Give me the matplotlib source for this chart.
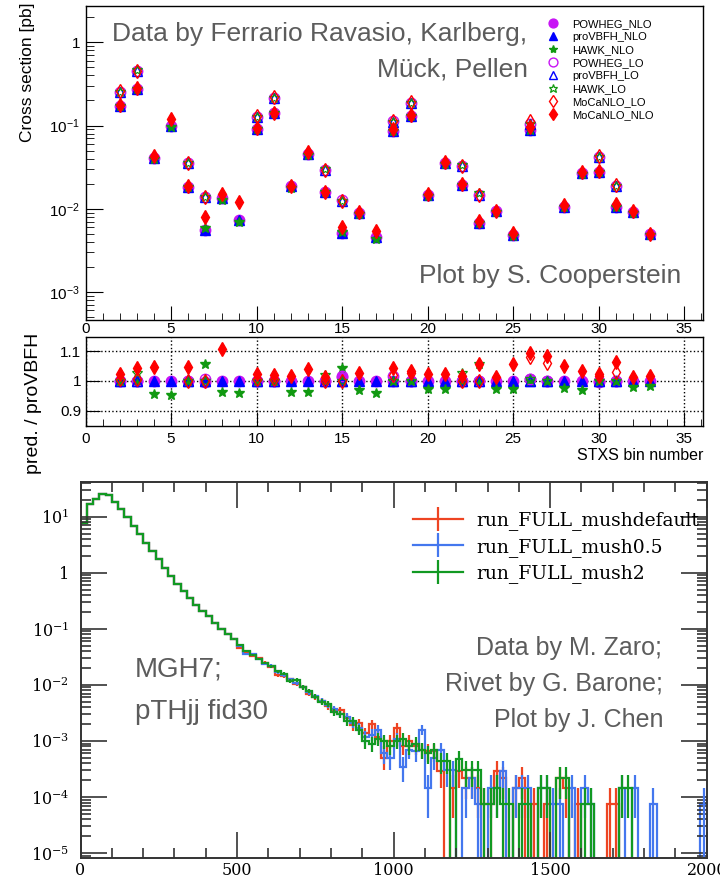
import numpy as np
import matplotlib
matplotlib.use("Agg")
import matplotlib.pyplot as plt
from matplotlib.ticker import FixedLocator, FuncFormatter, MultipleLocator, NullFormatter, LogLocator
from matplotlib.lines import Line2D

plt.rcParams["font.family"] = ["Liberation Sans", "DejaVu Sans"]
plt.rcParams["mathtext.fontset"] = "custom"
plt.rcParams["mathtext.rm"] = "Liberation Sans"
plt.rcParams["mathtext.it"] = "Liberation Sans:italic"
plt.rcParams["mathtext.default"] = "regular"

nan = np.nan

# ---------------- STXS cross sections ----------------
stxs_bins = list(range(2, 34))
lo_bins = [2, 3, 6, 7, 10, 11, 14, 15, 18, 19, 22, 23, 26, 27, 30, 31]

xsec_provbfh_nlo = [0.172, 0.273, 0.041, 0.100, 0.018, 0.0055, 0.0134, 0.0073,
                    0.090, 0.140, 0.0185, 0.0456, 0.0157, 0.0051, 0.0090, 0.00456,
                    0.086, 0.130, 0.0146, 0.0359, 0.0194, 0.0068, 0.0093, 0.0048,
                    0.0878, nan, 0.0106, 0.0267, 0.028, 0.0106, 0.0092, 0.00495]
xsec_provbfh_lo = [0.255, 0.452, 0.0359, 0.0138, 0.128, 0.216, 0.0293, 0.0124,
                   0.111, 0.188, 0.033, 0.0146, 0.1045, nan, 0.0423, 0.0188]

# ratios to proVBFH at the same order
ratio_powheg_nlo = [1.0, 1.0, 1.0, 1.0, 1.0, 0.996, 1.0, 1.0,
                    1.0, 1.0, 1.0, 1.0, 1.0, 1.012, 1.0, 1.0,
                    1.0, 1.0, 1.0, 1.0, 1.0, 1.0, 1.0, 1.0,
                    1.008, 1.0, 1.0, 1.0, 0.995, 1.0, 1.0, 1.0]
ratio_provbfh_nlo = [1.0] * 32
ratio_hawk_nlo = [0.995, 1.0, 0.957, 0.953, 1.0, 1.057, 0.962, 0.961,
                  1.0, 1.0, 0.964, 0.964, 1.0, 1.042, 0.968, 0.959,
                  1.0, 1.0, 0.973, 0.972, 1.0, 1.0, 0.973, 0.972,
                  1.0, 1.0, 0.976, 0.970, 1.0, 1.0, 0.979, 0.984]
ratio_mocanlo_nlo = [1.022, 1.042, 1.045, 1.20, 1.048, 1.45, 1.108, 1.65,
                     1.023, 1.020, 1.018, 1.040, 1.012, 1.17, 1.026, 1.18,
                     1.042, 1.032, 1.022, 1.022, 1.018, 1.055, 1.013, 1.055,
                     1.095, 1.082, 1.051, 1.033, 1.022, 1.064, 1.014, 1.016]
ratio_powheg_lo = [1.0, 1.0, 1.0, 1.008, 1.0, 1.0, 1.0, 1.015,
                   1.015, 1.0, 1.0, 1.0, 1.005, 1.0, 1.0, 1.0]
ratio_provbfh_lo = [1.0] * 16
ratio_hawk_lo = [1.0, 1.025, 1.0, 1.0, 1.0, 1.0, 1.02, 1.0,
                 1.0, 1.0, 1.025, 1.055, 1.005, 1.0, 1.0, 1.0]
ratio_mocanlo_lo = [1.005, 1.005, 1.0, 1.0, 1.005, 1.005, 1.0, 1.0,
                    1.02, 1.025, 1.0, 1.0, 1.08, 1.059, 1.015, 1.029]

# ---------------- pT(Hjj) spectra ----------------
pt_edges = np.arange(0, 2001, 20)
event_weight = 7.4e-5

xs_mushdefault = [
    7.6, 16.6, 20.7, 25.0, 24.5, 18.0, 13.5, 9.8, 6.8, 4.87,
    3.45, 2.45, 1.75, 1.24, 0.88, 0.635, 0.48, 0.357, 0.268, 0.21,
    0.166, 0.127, 0.100, 0.082, 0.066, 0.046, 0.038, 0.033, 0.030, 0.025,
    0.021, 0.015, 0.0145, 0.0125, 0.0105, 0.0092, 0.0070, 0.0060, 0.0052, 0.0042,
    0.0036, 0.0035, 0.0026, 0.0019, 0.0021, 0.0014, 0.0020, 0.0012, 0.0005, 0.0010,
    0.0017, 0.0008, 0.0010, 0.0008, 0.0007, 0.00065, 0.00065, 0.00029, 0, 0.000147,
    0.00029, 0.00022, 0.00022, 0.000147, 0.000074, 0.000074, 0.00029, 0.00022, 0, 0.000147,
    0.00022, 0, 0.000074, 0, 0.000074, 0, 0.00022, 0.000147, 0, 0.000074,
    0, 0, 0, 0, 0.000074, 0.000074, 0, 0, 0, 0,
    0, 0, 0, 0, 0, 0, 0, 0, 0, 0]
xs_mush05 = [
    7.6, 16.6, 20.7, 25.0, 24.5, 18.0, 13.5, 9.8, 6.8, 4.87,
    3.45, 2.45, 1.75, 1.24, 0.88, 0.635, 0.48, 0.357, 0.268, 0.21,
    0.166, 0.127, 0.100, 0.082, 0.066, 0.050, 0.036, 0.035, 0.029, 0.024,
    0.022, 0.0168, 0.0150, 0.0125, 0.0108, 0.0093, 0.0074, 0.0063, 0.0052, 0.0044,
    0.0037, 0.0030, 0.0027, 0.0021, 0.0017, 0.0012, 0.0013, 0.0016, 0.0006, 0.0005,
    0.0011, 0.00035, 0.0007, 0.00065, 0.0016, 0.000147, 0.0005, 0.0007, 0.0003, 0.0003,
    0, 0.000147, 0.00022, 0.000074, 0, 0.000147, 0.000147, 0.00029, 0, 0.000147,
    0.000147, 0.000147, 0, 0.000147, 0.000147, 0.000074, 0.000074, 0, 0.000147, 0,
    0.000147, 0.000074, 0, 0, 0, 0, 0.000147, 0, 0.000147, 0,
    0, 0.000074, 0, 0, 0, 0, 0, 0, 0, 0.000074]
xs_mush2 = [
    7.6, 16.6, 20.7, 25.0, 24.5, 18.0, 13.5, 9.8, 6.8, 4.87,
    3.45, 2.45, 1.75, 1.24, 0.88, 0.635, 0.48, 0.357, 0.268, 0.21,
    0.166, 0.127, 0.100, 0.082, 0.066, 0.052, 0.040, 0.034, 0.029, 0.0246,
    0.0215, 0.0175, 0.0158, 0.0118, 0.0122, 0.0090, 0.0078, 0.0062, 0.0050, 0.0046,
    0.0033, 0.0030, 0.0023, 0.0023, 0.0016, 0.0010, 0.0009, 0.0011, 0.0010, 0.0008,
    0.0010, 0.0011, 0.0008, 0.0009, 0.0007, 0.0006, 0.0007, 0.00044, 0.00044, 0,
    0.00047, 0.0003, 0.0003, 0.0003, 0.000074, 0.000074, 0.000147, 0.000074, 0.000074, 0,
    0.000074, 0.000074, 0, 0.000147, 0.000147, 0, 0.00022, 0.00022, 0, 0,
    0.000074, 0.000074, 0, 0, 0, 0, 0.000147, 0.000147, 0, 0,
    0, 0, 0, 0, 0, 0, 0, 0, 0, 0]

pt_labels = ["run_FULL_mushdefault", "run_FULL_mush0.5", "run_FULL_mush2"]

# ---------------- figure layout (pixel boxes) ----------------
W, H = 720, 883
fig = plt.figure(figsize=(W / 100, H / 100), dpi=100)


def box(left, top, right, bottom):
    return [left / W, 1 - bottom / H, (right - left) / W, (bottom - top) / H]


def fig_text(x, y, s, **kw):
    return fig.text(x / W, 1 - y / H, s, **kw)


ax_top = fig.add_axes(box(85.5, 6, 703, 320))
ax_rat = fig.add_axes(box(85.5, 336.7, 703, 426))
ax_pt = fig.add_axes(box(80.5, 481.7, 706.7, 858.3))

MAG, BLU, GRN, RED = "#C814F5", "#0000FF", "#119911", "#FF0000"
styles = {
    "POWHEG_NLO": dict(marker="o", ms=7.5, mfc=MAG, mec=MAG),
    "proVBFH_NLO": dict(marker="^", ms=7.5, mfc=BLU, mec=BLU),
    "HAWK_NLO": dict(marker="*", ms=7, mfc=GRN, mec=GRN),
    "POWHEG_LO": dict(marker="o", ms=7.5, mfc="none", mec=MAG, mew=1.0),
    "proVBFH_LO": dict(marker="^", ms=7.5, mfc="none", mec=BLU, mew=1.0),
    "HAWK_LO": dict(marker="*", ms=7.5, mfc="none", mec=GRN, mew=0.9),
    "MoCaNLO_LO": dict(marker="d", ms=7, mfc="none", mec=RED, mew=1.0),
    "MoCaNLO_NLO": dict(marker="d", ms=7, mfc=RED, mec=RED),
}

x_nlo = np.array(stxs_bins, dtype=float)
x_lo = np.array(lo_bins, dtype=float)
sig_nlo = np.array(xsec_provbfh_nlo, dtype=float)
sig_lo = np.array(xsec_provbfh_lo, dtype=float)

series = [
    ("POWHEG_NLO", x_nlo, sig_nlo, ratio_powheg_nlo),
    ("proVBFH_NLO", x_nlo, sig_nlo, ratio_provbfh_nlo),
    ("HAWK_NLO", x_nlo, sig_nlo, ratio_hawk_nlo),
    ("POWHEG_LO", x_lo, sig_lo, ratio_powheg_lo),
    ("proVBFH_LO", x_lo, sig_lo, ratio_provbfh_lo),
    ("HAWK_LO", x_lo, sig_lo, ratio_hawk_lo),
    ("MoCaNLO_LO", x_lo, sig_lo, ratio_mocanlo_lo),
    ("MoCaNLO_NLO", x_nlo, sig_nlo, ratio_mocanlo_nlo),
]

handles = []
for name, xv, sig, rat in series:
    rat = np.array(rat, dtype=float)
    (h,) = ax_top.plot(xv, sig * rat, ls="none", label=name, **styles[name])
    ax_rat.plot(xv, rat, ls="none", **styles[name])
    handles.append(h)

TICK_FS = 11


def log_label(v, pos):
    if v <= 0:
        return ""
    e = int(round(np.log10(v)))
    return "1" if e == 0 else r"$10^{%d}$" % e


# top panel axes
ax_top.set_yscale("log")
ax_top.set_xlim(0, 36.1)
ax_top.set_ylim(4.6e-4, 2.73)
ax_top.xaxis.set_major_locator(MultipleLocator(5))
ax_top.xaxis.set_minor_locator(MultipleLocator(1))
ax_top.yaxis.set_major_locator(FixedLocator([1e-3, 1e-2, 1e-1, 1]))
ax_top.yaxis.set_minor_locator(LogLocator(base=10, subs=np.arange(2, 10)))
ax_top.yaxis.set_major_formatter(FuncFormatter(log_label))
ax_top.yaxis.set_minor_formatter(NullFormatter())
ax_top.tick_params(which="both", direction="in", labelsize=TICK_FS, top=False, right=False)
ax_top.tick_params(axis="x", which="major", length=10, pad=1.5)
ax_top.tick_params(axis="x", which="minor", length=5)
ax_top.tick_params(axis="y", which="major", length=12, pad=4)
ax_top.tick_params(axis="y", which="minor", length=6)

ax_top.legend(handles=handles, loc="upper left", bbox_to_anchor=(0.748, 0.958),
              fontsize=8, frameon=False, handlelength=1.0, handletextpad=1.2,
              labelspacing=0.27, borderpad=0, borderaxespad=0, numpoints=1,
              markerscale=0.85)

GRAY = "#5c5c5c"
fig_text(112.3, 40.7, "Data by Ferrario Ravasio, Karlberg,", fontsize=19, color=GRAY,
         ha="left", va="baseline")
fig_text(528.3, 76.7, "Mück, Pellen", fontsize=19, color=GRAY, ha="right", va="baseline")
fig_text(681.7, 282.7, "Plot by S. Cooperstein", fontsize=19, color=GRAY,
         ha="right", va="baseline")
fig_text(28, 2, "Cross section [pb]", fontsize=12.5, rotation=90, ha="center", va="top")

# ratio panel axes
ax_rat.set_xlim(0, 36.1)
ax_rat.set_ylim(0.849, 1.148)
ax_rat.xaxis.set_major_locator(MultipleLocator(5))
ax_rat.xaxis.set_minor_locator(MultipleLocator(1))
ax_rat.yaxis.set_major_locator(FixedLocator([0.9, 1.0, 1.1]))
ax_rat.yaxis.set_major_formatter(FuncFormatter(lambda v, p: "1" if abs(v - 1) < 1e-9 else "%.1f" % v))
ax_rat.tick_params(which="both", direction="in", labelsize=TICK_FS, top=False, right=False)
ax_rat.tick_params(axis="x", which="major", length=10, pad=4)
ax_rat.tick_params(axis="x", which="minor", length=5)
ax_rat.tick_params(axis="y", which="major", length=10, pad=3)
ax_rat.grid(True, which="major", ls=":", color="black", lw=1.0)
ax_rat.set_axisbelow(True)
fig_text(703, 455, "STXS bin number", fontsize=11.5, ha="right", va="center")
fig_text(34, 403.5, "pred. / proVBFH", fontsize=14, rotation=90, ha="center", va="center")

for ax in (ax_top, ax_rat):
    for sp in ax.spines.values():
        sp.set_linewidth(1.0)
        sp.set_color("black")

# ---------------- pT(Hjj) panel ----------------
pt_colors = ["#EE4422", "#4477EE", "#119922"]
leg_handles = []
for vals, col, lab in zip([xs_mushdefault, xs_mush05, xs_mush2], pt_colors, pt_labels):
    v = np.array(vals, dtype=float)
    ax_pt.stairs(v, pt_edges, baseline=None, color=col, lw=1.6)
    centers = 0.5 * (pt_edges[:-1] + pt_edges[1:])
    m = v > 0
    err = np.sqrt(v[m] * event_weight)
    low = np.minimum(err, v[m] - 1e-9)
    ax_pt.errorbar(centers[m], v[m], yerr=[low, err], fmt="none", ecolor=col, elinewidth=1.6)
    leg_handles.append(Line2D([0], [0], color=col, lw=1.6, marker="|", ms=17, mew=1.6, label=lab))

ax_pt.set_yscale("log")
ax_pt.set_xlim(0, 2000)
ax_pt.set_ylim(8.1e-6, 42)
ax_pt.xaxis.set_major_locator(FixedLocator([0, 500, 1000, 1500, 2000]))
ax_pt.xaxis.set_minor_locator(MultipleLocator(100))
ax_pt.yaxis.set_major_locator(FixedLocator([1e-5, 1e-4, 1e-3, 1e-2, 1e-1, 1, 10]))
ax_pt.yaxis.set_minor_locator(LogLocator(base=10, subs=np.arange(2, 10)))
ax_pt.yaxis.set_major_formatter(FuncFormatter(log_label))
ax_pt.yaxis.set_minor_formatter(NullFormatter())
ax_pt.tick_params(which="both", direction="in", top=True, right=True, color="#333333", width=1.2)
ax_pt.tick_params(which="major", length=19)
ax_pt.tick_params(which="minor", length=7)
ax_pt.tick_params(axis="x", which="major", pad=2.5)
ax_pt.tick_params(axis="y", which="major", pad=8)
for lab in ax_pt.get_xticklabels() + ax_pt.get_yticklabels():
    lab.set_fontfamily("DejaVu Serif")
    lab.set_math_fontfamily("dejavuserif")
    lab.set_fontsize(11.5)
for sp in ax_pt.spines.values():
    sp.set_linewidth(1.4)
    sp.set_color("#333333")

ax_pt.legend(handles=leg_handles, loc="upper left", bbox_to_anchor=(0.5305, 0.922),
             prop={"family": "DejaVu Serif", "size": 13.5}, frameon=False,
             handlelength=2.67, handletextpad=0.73, labelspacing=0.41,
             borderpad=0, borderaxespad=0)

fig_text(662, 655, "Data by M. Zaro;", fontsize=18, color=GRAY, ha="right", va="baseline")
fig_text(663, 691, "Rivet by G. Barone;", fontsize=18, color=GRAY, ha="right", va="baseline")
fig_text(663, 727, "Plot by J. Chen", fontsize=18, color=GRAY, ha="right", va="baseline")
fig_text(135, 677, "MGH7;", fontsize=20, color=GRAY, ha="left", va="baseline")
fig_text(135, 719, "pTHjj fid30", fontsize=20, color=GRAY, ha="left", va="baseline")

fig.savefig("out.png", dpi=100)
